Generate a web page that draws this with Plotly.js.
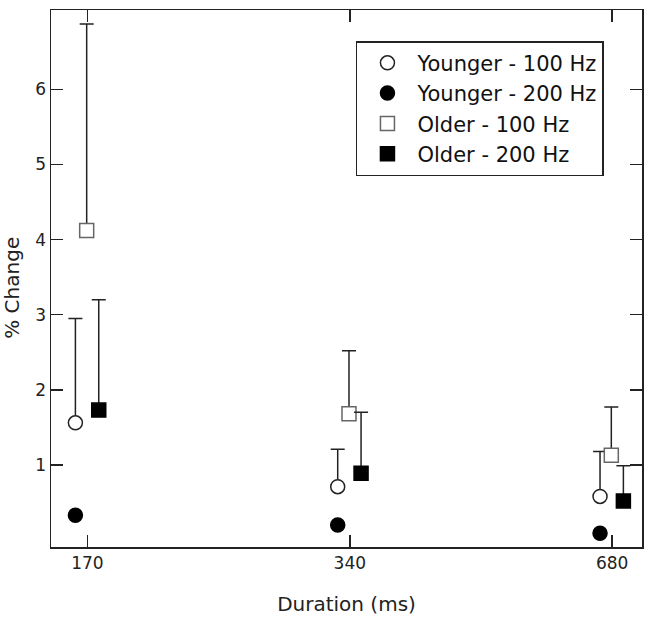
<!DOCTYPE html>
<html>
<head>
<meta charset="utf-8">
<script src="https://cdn.plot.ly/plotly-3.0.1.min.js"></script>
<style>html,body{margin:0;padding:0;background:#fff;}#chart{width:651px;height:621px;}</style>
</head>
<body>
<div id="chart"></div>
<script>
// Durations (ms) as categories
var durations = ['170', '340', '680'];

// Mean % change per duration
var younger100 = [1.56, 0.71, 0.58];
var younger200 = [0.33, 0.20, 0.09];
var older100   = [4.12, 1.68, 1.13];
var older200   = [1.73, 0.89, 0.52];

// Upper error (one-sided) per duration
var younger100Err = [1.39, 0.50, 0.60];
var younger200Err = [0, 0, 0];
var older100Err   = [2.75, 0.84, 0.64];
var older200Err   = [1.47, 0.81, 0.47];

var yTicks = [1, 2, 3, 4, 5, 6];

// horizontal dodge within a duration group (axis units)
function pos(offset) { return durations.map(function (d, i) { return i + offset; }); }

var font = 'DejaVu Sans, Verdana, sans-serif';
var ink = '#222';

function trace(name, x, y, err, symbol, fill, line) {
  return {
    type: 'scatter', mode: 'markers', name: name,
    x: x, y: y,
    marker: { symbol: symbol, size: 14, color: fill, line: { color: line, width: 1.5 } },
    error_y: { type: 'data', symmetric: false, array: err, arrayminus: err.map(function(){return 0;}),
               visible: true, color: ink, thickness: 1.5, width: 7 },
    cliponaxis: false
  };
}

var data = [
  trace('Younger - 100 Hz', pos(-0.046), younger100, younger100Err, 'circle', '#fff', ink),
  trace('Younger - 200 Hz', pos(-0.046), younger200, younger200Err, 'circle', '#000', '#000'),
  trace('Older - 100 Hz',   pos(-0.003), older100,   older100Err,   'square', '#fff', '#666'),
  trace('Older - 200 Hz',   pos(0.043),  older200,   older200Err,   'square', '#000', '#000')
];

var axisCommon = {
  showline: true, linecolor: ink, linewidth: 1.5, mirror: 'ticks',
  ticks: 'inside', ticklen: 12, tickwidth: 1.5, tickcolor: ink,
  showgrid: false, zeroline: false,
  tickfont: { family: font, size: 17, color: ink }
};

var layout = {
  width: 651, height: 621,
  margin: { l: 51, r: 9, t: 10, b: 74 },
  paper_bgcolor: '#fff', plot_bgcolor: '#fff',
  showlegend: true,
  legend: {
    x: 0.516, y: 0.942, xanchor: 'left', yanchor: 'top',
    bgcolor: '#fff', bordercolor: ink, borderwidth: 1.5,
    font: { family: font, size: 21, color: '#111' },
    traceorder: 'normal', itemwidth: 50
  },
  xaxis: Object.assign({}, axisCommon, {
    range: [-0.139, 2.114], tickmode: 'array',
    tickvals: durations.map(function (d, i) { return i; }), ticktext: durations,
    title: { text: 'Duration (ms)', font: { family: font, size: 20, color: ink }, standoff: 25 }
  }),
  yaxis: Object.assign({}, axisCommon, {
    range: [-0.093, 7.057], tickmode: 'array', tickvals: yTicks,
    ticktext: yTicks.map(String)
  }),
  annotations: [{
    text: '% Change', xref: 'paper', yref: 'paper', x: -0.065, y: 0.482,
    xanchor: 'center', yanchor: 'middle', textangle: -90, showarrow: false,
    borderpad: 0, font: { family: font, size: 20, color: ink }
  }]
};

Plotly.newPlot('chart', data, layout, { displayModeBar: false, staticPlot: true });
</script>
</body>
</html>
